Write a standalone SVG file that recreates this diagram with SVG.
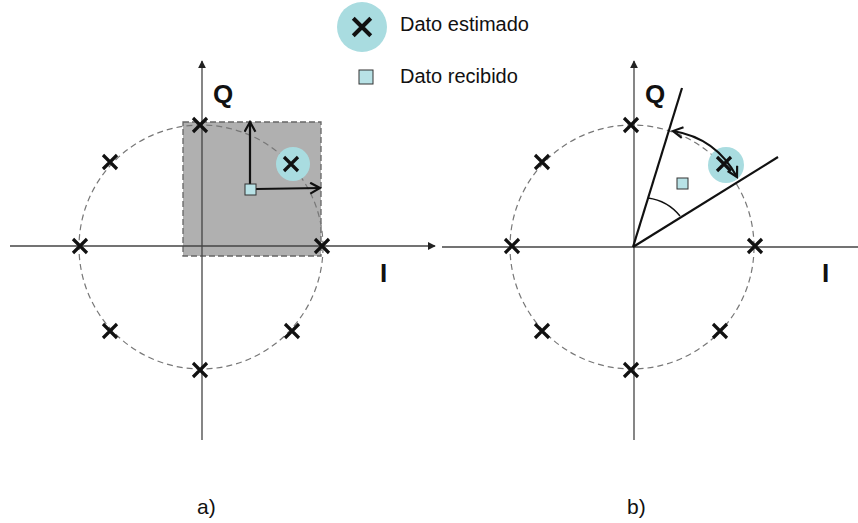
<svg xmlns="http://www.w3.org/2000/svg" width="858" height="523" viewBox="0 0 858 523">
<defs>
<marker id="ah" viewBox="0 0 10 10" refX="9" refY="5" markerWidth="8" markerHeight="8" markerUnits="userSpaceOnUse" orient="auto"><path d="M0,0 L10,5 L0,10 z" fill="#222"/></marker>
<marker id="open" viewBox="0 0 12 12" refX="10" refY="6" markerWidth="13" markerHeight="13" markerUnits="userSpaceOnUse" orient="auto-start-reverse"><path d="M1,1 L10,6 L1,11" fill="none" stroke="#111" stroke-width="2"/></marker>
<g id="xm"><path d="M-7,-7 L7,7 M-7,7 L7,-7" stroke="#111" stroke-width="3.2" fill="none"/></g>
</defs>
<style>
.axis{stroke:#444;stroke-width:1.3;fill:none}
.circ{stroke:#777;stroke-width:1.2;stroke-dasharray:6,4;fill:none}
.lbl{font-family:"Liberation Sans",Arial,sans-serif;font-weight:bold;font-size:26px;fill:#111}
.txt{font-family:"Liberation Sans",Arial,sans-serif;font-size:20px;fill:#111}
.cap{font-family:"Liberation Sans",Arial,sans-serif;font-size:21px;fill:#111}
.est{fill:#a9dce0}
.rec{fill:#b8e2e6;stroke:#333;stroke-width:1}
.bold{stroke:#111;stroke-width:2.2;fill:none}
</style>
<rect width="858" height="523" fill="#fff"/>
<g id="legend">
<circle cx="362" cy="27" r="25" class="est"/>
<use href="#xm" transform="translate(362 27) scale(1.25)"/>
<text x="400" y="31" class="txt">Dato estimado</text>
<rect x="359" y="70" width="14" height="14" class="rec"/>
<text x="400" y="83" class="txt">Dato recibido</text>
</g>
<g id="diagram-a">
<rect x="183" y="122" width="138" height="134" fill="#b0b0b0" stroke="#666" stroke-width="1.3" stroke-dasharray="6,3"/>
<g id="connectors-a">
<line x1="202" y1="440" x2="202" y2="61" class="axis" marker-end="url(#ah)"/>
<line x1="10" y1="246" x2="435" y2="246" class="axis" marker-end="url(#ah)"/>
</g>
<circle cx="201" cy="247" r="122" class="circ"/>
<circle cx="293" cy="164" r="17" class="est"/>
<use href="#xm" x="80" y="246"/>
<use href="#xm" x="322" y="246"/>
<use href="#xm" x="200" y="125"/>
<use href="#xm" x="200" y="370"/>
<use href="#xm" x="110" y="162"/>
<use href="#xm" x="291" y="164"/>
<use href="#xm" x="110" y="331"/>
<use href="#xm" x="292" y="331"/>
<line x1="250" y1="184" x2="250" y2="122" class="bold" marker-end="url(#open)"/>
<line x1="256" y1="189" x2="320" y2="188" class="bold" marker-end="url(#open)"/>
<rect x="245" y="184" width="11" height="11" class="rec"/>
<text x="213" y="103" class="lbl">Q</text>
<text x="380" y="282" class="lbl">I</text>
<text x="197" y="514" class="cap">a)</text>
</g>
<g id="diagram-b">
<g id="connectors-b">
<line x1="634" y1="440" x2="634" y2="61" class="axis" marker-end="url(#ah)"/>
<line x1="442" y1="247" x2="858" y2="247" class="axis"/>
</g>
<circle cx="632" cy="247" r="122" class="circ"/>
<circle cx="726" cy="165" r="18" class="est"/>
<use href="#xm" x="512" y="246"/>
<use href="#xm" x="755" y="246"/>
<use href="#xm" x="631" y="125"/>
<use href="#xm" x="631" y="370"/>
<use href="#xm" x="542" y="162"/>
<use href="#xm" x="724" y="164"/>
<use href="#xm" x="542" y="331"/>
<use href="#xm" x="720" y="331"/>
<line x1="633" y1="247" x2="682" y2="88" class="bold"/>
<line x1="633" y1="247" x2="778" y2="157" class="bold"/>
<path d="M648,198 A50,50 0 0 1 680,216" stroke="#111" stroke-width="1.4" fill="none"/>
<path d="M673,131 Q716,138 737,177" class="bold" marker-start="url(#open)" marker-end="url(#open)"/>
<rect x="677" y="178" width="11" height="11" class="rec"/>
<text x="645" y="103" class="lbl">Q</text>
<text x="822" y="282" class="lbl">I</text>
<text x="627" y="514" class="cap">b)</text>
</g>
</svg>
